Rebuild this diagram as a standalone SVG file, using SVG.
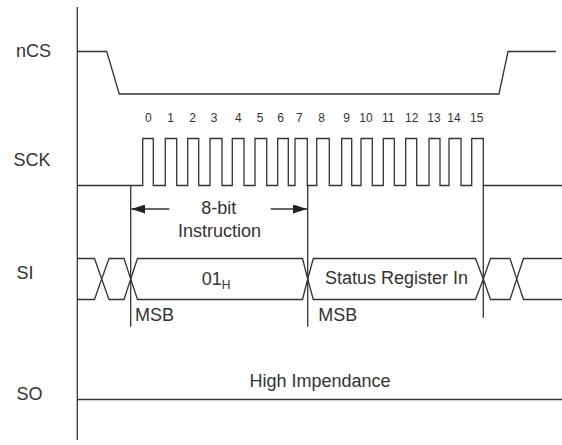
<svg xmlns="http://www.w3.org/2000/svg" width="562" height="445" viewBox="0 0 562 445">
<defs>
<style>
.ln{fill:none;stroke:#333;stroke-width:1.3}
.t{font-family:"Liberation Sans",Arial,sans-serif;font-size:18px;fill:#333}
.n{font-family:"Liberation Sans",Arial,sans-serif;font-size:12px;fill:#333;text-anchor:middle}
</style>
<marker id="ah" markerUnits="userSpaceOnUse" markerWidth="14" markerHeight="9" refX="14" refY="4.5" orient="auto">
<path d="M0,0 L14,4.5 L0,9 Z" fill="#222"/>
</marker>
</defs>
<g id="axis"><line class="ln" x1="77.3" y1="7" x2="77.3" y2="440"/></g>
<g id="labels">
<text class="t" x="16" y="57">nCS</text>
<text class="t" x="13.5" y="166">SCK</text>
<text class="t" x="16.5" y="279">SI</text>
<text class="t" x="16.5" y="400">SO</text>
</g>
<g id="nCS"><path class="ln" d="M77,51.5 H106.7 L119.3,94 H499 L508,51.5 H556"/></g>
<g id="SCK">
<path class="ln" d="M77,185.5 H142.7 V138.5 H153.3 V185.5 H165.3 V138.5 H176.7 V185.5 H187.7 V138.5 H198.7 V185.5 H210 V138.5 H222 V185.5 H232.3 V138.5 H244 V185.5 H255 V138.5 H266.7 V185.5 H277.7 V138.5 H288.3 V185.5 H295 V138.5 H307.3 V185.5 H316.7 V138.5 H329.3 V185.5 H341.7 V138.5 H351.7 V185.5 H361 V138.5 H372.3 V185.5 H383.3 V138.5 H394.3 V185.5 H405.7 V138.5 H416.7 V185.5 H429 V138.5 H440 V185.5 H449 V138.5 H461 V185.5 H471.7 V138.5 H483.3 V185.5 H562"/>
<g id="bitnums">
<text class="n" x="148.3" y="122">0</text>
<text class="n" x="170.7" y="122">1</text>
<text class="n" x="192.7" y="122">2</text>
<text class="n" x="214" y="122">3</text>
<text class="n" x="238.3" y="122">4</text>
<text class="n" x="260" y="122">5</text>
<text class="n" x="280.7" y="122">6</text>
<text class="n" x="299.3" y="122">7</text>
<text class="n" x="321.7" y="122">8</text>
<text class="n" x="346.7" y="122">9</text>
<text class="n" x="366" y="122">10</text>
<text class="n" x="388.3" y="122">11</text>
<text class="n" x="411.7" y="122">12</text>
<text class="n" x="434" y="122">13</text>
<text class="n" x="454" y="122">14</text>
<text class="n" x="476.7" y="122">15</text>
</g>
</g>
<g id="connectors">
<line class="ln" x1="130.7" y1="185.5" x2="130.7" y2="326.7"/>
<line class="ln" x1="307.7" y1="185.5" x2="307.7" y2="326.7"/>
<line class="ln" x1="483.3" y1="185.5" x2="483.3" y2="317.7"/>
<line class="ln" x1="169.3" y1="209" x2="131.3" y2="209" marker-end="url(#ah)"/>
<line class="ln" x1="270.7" y1="209" x2="307" y2="209" marker-end="url(#ah)"/>
</g>
<g id="instruction">
<text class="t" x="218.8" y="214" text-anchor="middle">8-bit</text>
<text class="t" x="219.5" y="236.7" text-anchor="middle">Instruction</text>
</g>
<g id="SI">
<path class="ln" d="M77,258.5 H94.5 L101.7,279 L94.5,299.5 H77"/>
<path class="ln" d="M101.7,279 L109,258.5 H124 L130.7,279 L124,299.5 H109 Z"/>
<path class="ln" d="M130.7,279 L137.5,258.5 H302.5 L307.7,279 L302.5,299.5 H137.5 Z"/>
<path class="ln" d="M307.7,279 L313.3,258.5 H475.5 L483.3,279 L475.5,299.5 H313.3 Z"/>
<path class="ln" d="M483.3,279 L490.5,258.5 H510 L516.7,279 L510,299.5 H490.5 Z"/>
<path class="ln" d="M562,258.5 H523.5 L516.7,279 L523.5,299.5 H562"/>
<text class="t" x="201.7" y="285">01<tspan font-size="12" dy="4">H</tspan></text>
<text class="t" x="325" y="284.3">Status Register In</text>
<text class="t" x="135" y="320.5">MSB</text>
<text class="t" x="318.3" y="320.5">MSB</text>
</g>
<g id="SO">
<line class="ln" x1="77" y1="399.5" x2="562" y2="399.5"/>
<text class="t" x="320" y="386.7" text-anchor="middle">High Impendance</text>
</g>
</svg>
